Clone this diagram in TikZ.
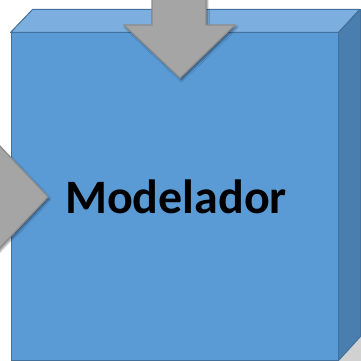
\documentclass[tikz,border=0pt]{standalone}
\usepackage{fontspec}
\setmainfont{Carlito}
\usetikzlibrary{positioning,shadows.blur}

\begin{document}
\begin{tikzpicture}[
    x=1pt, y=-1pt,
    front/.style={rectangle, draw=boxline, fill=frontblue, line width=1pt, minimum width=327pt, minimum height=327pt, inner sep=0pt, font=\fontsize{48}{56}\selectfont\bfseries},
    face/.style={draw=boxline, line width=1pt, line join=round},
    blockarrow/.style={draw=arrowline, fill=arrowgray, line width=1.2pt, line join=miter, blur shadow={shadow xshift=1.5pt, shadow yshift=-2pt, shadow blur steps=6, shadow opacity=45}}
]
\definecolor{frontblue}{HTML}{5B9BD5}
\definecolor{topblue}{HTML}{7CAFDF}
\definecolor{sideblue}{HTML}{4A7EAE}
\definecolor{boxline}{HTML}{41719C}
\definecolor{arrowgray}{HTML}{A5A5A5}
\definecolor{arrowline}{HTML}{8C8C8C}
\useasboundingbox (0,0) rectangle (361,361);
% Shadow under the box
\fill[black!18] (338,360) -- (361,337) -- (361,361) -- (338,361) -- cycle;
% Box
\node[front] (modelador) at (174.5,196.5) {};
\draw[face, fill=topblue] (modelador.north west) -- ++(22,-23) -- ++(327,0) -- (modelador.north east) -- cycle;
\draw[face, fill=sideblue] (modelador.north east) -- ++(22,-23) -- ++(0,327) -- (modelador.south east) -- cycle;
\node[front, draw=none, fill=none] (label) at (176,197) {Modelador};
% Input arrows
\coordinate (toptip) at (180,78);
\coordinate (lefttip) at (48,197);
\draw[blockarrow] (toptip) -- ++(55,-53) -- ++(-29,0) -- ++(0,-35) -- ++(-54,0) -- ++(0,35) -- ++(-28,0) -- cycle;
\draw[blockarrow] (lefttip) -- ++(-53,-56) -- ++(0,29) -- ++(-30,0) -- ++(0,54) -- ++(30,0) -- ++(0,29) -- cycle;
\end{tikzpicture}
\end{document}
